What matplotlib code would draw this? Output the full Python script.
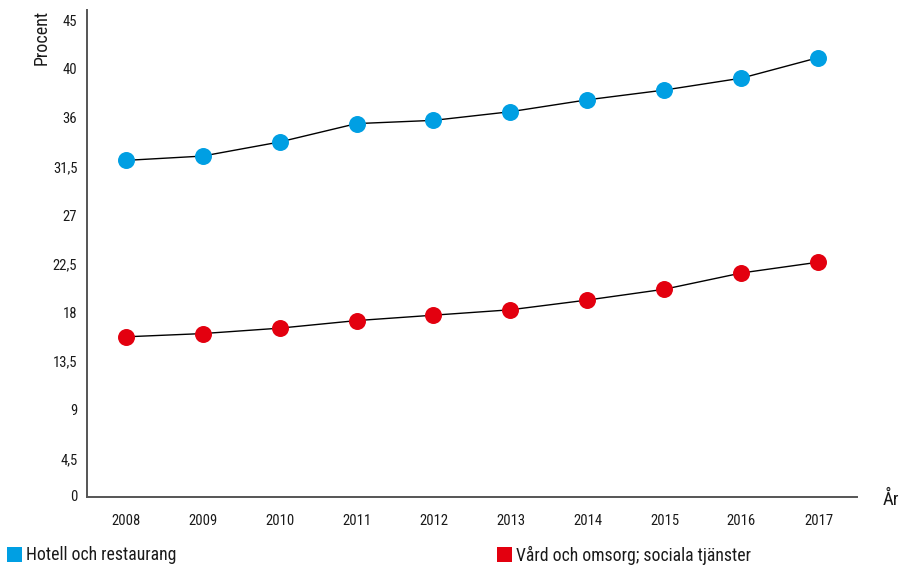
import matplotlib
matplotlib.use("Agg")
import matplotlib.pyplot as plt
from matplotlib.transforms import ScaledTranslation, blended_transform_factory
from matplotlib.patches import Rectangle
from matplotlib import font_manager

# Pick a condensed sans face if one is installed
entries = font_manager.fontManager.ttflist
names = {f.name for f in entries}
FONT, STRETCH = "DejaVu Sans", "normal"
for cand in ["Liberation Sans Narrow", "Roboto Condensed", "Open Sans Condensed",
             "Noto Sans Condensed", "DejaVu Sans Condensed"]:
    if cand in names:
        FONT = cand
        break
else:
    for pref in ["Roboto", "Noto Sans", "Open Sans", "DejaVu Sans", "Liberation Sans"]:
        hit = [f for f in entries if f.name == pref and "ondensed" in str(f.stretch)
               or (f.name == pref and isinstance(f.stretch, int) and f.stretch < 500)]
        if hit:
            FONT, STRETCH = pref, hit[0].stretch
            break
plt.rcParams["font.family"] = [FONT, "DejaVu Sans"]
plt.rcParams["font.stretch"] = STRETCH

years = ["2008", "2009", "2010", "2011", "2012", "2013", "2014", "2015", "2016", "2017"]
hotell = [31.1, 31.5, 32.8, 34.5, 34.8, 35.6, 36.7, 37.6, 38.7, 40.6]
vard = [14.8, 15.1, 15.6, 16.3, 16.8, 17.3, 18.2, 19.2, 20.7, 21.7]
ytick_values = [0, 4.5, 9, 13.5, 18, 22.5, 27, 31.5, 36, 40.5, 45]
ytick_labels = ["0", "4,5", "9", "13,5", "18", "22,5", "27", "31,5", "36", "40", "45"]
series_names = ["Hotell och restaurang", "Vård och omsorg; sociala tjänster"]

BLUE = "#009FE3"
RED = "#E3000F"

fig = plt.figure(figsize=(9.01, 5.69), dpi=100)
ax = fig.add_axes([0.0966, 0.1265, 0.8545, 0.856])

x = list(range(len(years)))
ax.plot(x, hotell, color="black", lw=1.0, marker="o", ms=11.2,
        markerfacecolor=BLUE, markeredgecolor=BLUE, zorder=3)
ax.plot(x, vard, color="black", lw=1.0, marker="o", ms=11.2,
        markerfacecolor=RED, markeredgecolor=RED, zorder=3)

ax.set_xlim(-0.5, len(years) - 0.5)
ax.set_ylim(0, 45)

for side in ("top", "right"):
    ax.spines[side].set_visible(False)
for side in ("left", "bottom"):
    ax.spines[side].set_color("#555555")
    ax.spines[side].set_linewidth(1.4)

ax.set_xticks(x)
ax.set_xticklabels(years, fontsize=10.5, color="#1a1a1a")
ax.tick_params(axis="x", length=0, pad=12.5)
ax.set_yticks([])

# y tick labels sit just below their tick level
ytrans = blended_transform_factory(ax.transAxes, ax.transData)
for v, lab in zip(ytick_values, ytick_labels):
    dy = -8.5 / 72 if v > 0 else 0
    t = ytrans + ScaledTranslation(-7 / 72, dy, fig.dpi_scale_trans)
    ax.text(0, v, lab, transform=t, ha="right", va="center",
            fontsize=10.5, color="#1a1a1a")

fig.text(42 / 901, 1 - 10 / 569, "Procent", rotation=90, ha="center", va="top",
         fontsize=13, color="#1a1a1a")
fig.text(899 / 901, 1 - 500 / 569, "År", ha="right", va="center",
         fontsize=13.5, color="#1a1a1a")

# Legend row along the bottom edge
for sx, col, name in [(7, BLUE, series_names[0]), (497, RED, series_names[1])]:
    fig.patches.append(Rectangle((sx / 901, 1 - 562 / 569), 15 / 901, 15 / 569,
                                 transform=fig.transFigure, facecolor=col,
                                 edgecolor="none"))
    fig.text((sx + 19) / 901, 1 - 555 / 569, name, ha="left", va="center",
             fontsize=12.7, color="#1a1a1a")

fig.savefig("out.png", dpi=100)
